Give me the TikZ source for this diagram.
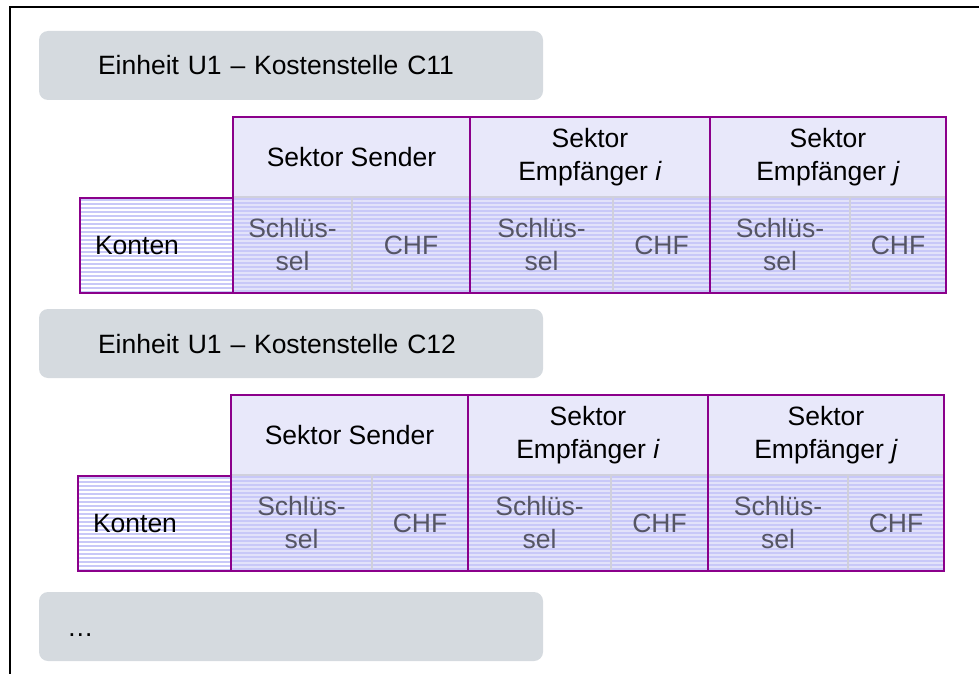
\documentclass[tikz,border=0pt]{standalone}
\usepackage{fontspec}
\setmainfont{Liberation Sans}
\usepackage{xcolor}

\definecolor{boxgray}{RGB}{213,218,223}
\definecolor{framepurple}{RGB}{139,0,139}
\definecolor{headfill}{RGB}{232,232,250}
\definecolor{subfill}{RGB}{226,226,250}
\definecolor{stripe}{RGB}{200,200,248}
\definecolor{subtext}{RGB}{85,85,100}
\definecolor{splitgray}{RGB}{208,208,220}

\begin{document}
\begin{tikzpicture}[x=1pt, y=-1pt,
    every node/.style={inner sep=0pt, outer sep=0pt, font=\fontsize{26.5}{33}\selectfont},
    unitbox/.style={anchor=north west, fill=boxgray, rounded corners=9pt,
      minimum width=504pt, minimum height=69pt, align=left, text height=19pt, text depth=0pt},
    stripes/.style={path picture={
        \foreach \s in {2,6,...,98}
          \draw[stripe, line width=2pt] ([yshift=-\s pt]path picture bounding box.north west)
            -- ([yshift=-\s pt]path picture bounding box.north east);}},
    konten/.style={anchor=north west, draw=framepurple, line width=2pt, fill=white, stripes,
      text width=123pt, inner xsep=15pt, align=left, minimum height=95pt},
    sektor/.style={anchor=north west, fill=headfill, align=center, minimum height=80pt},
    subcell/.style={anchor=north west, draw=splitgray, line width=1.5pt, fill=subfill, stripes,
      text=subtext, align=center, minimum height=96pt},
    colframe/.style={draw=framepurple, line width=2pt}]
    \useasboundingbox (0,0) rectangle (979,674);
    \draw[line width=2pt] (979,7) -| (10,674);

    % two cost centres
    \foreach \r/\dy/\dx/\ks/\cs in {1/0/0/119/C11, 2/278/-2/141/C12}{
      \node[unitbox, inner xsep=59pt, text width=386pt] (unit\r) at (39,31+\dy) {Einheit U1 – Kostenstelle \cs};
      \node[konten] (konten\r) at (80+\dx,198+\dy) {Konten};
      \foreach \c/\x/\w/\k/\t in {s/233/237/\ks/{Sektor Sender},
          i/470/240/143/{Sektor\\Empfänger \textit{i}},
          j/710/236/140/{Sektor\\Empfänger \textit{j}}}{
        \node[sektor, minimum width=\w pt] (head\c\r) at (\x+\dx,117+\dy) {\t};
        \node[subcell, minimum width=\k pt] (key\c\r) at (head\c\r.south west) {Schlüs-\\sel};
        \node[subcell, minimum width={(\w-\k)*1pt}] (chf\c\r) at (key\c\r.north east) {CHF};
        \draw[colframe] (head\c\r.north west) rectangle (chf\c\r.south east);
      }
    }
    \node[unitbox, inner xsep=28pt, text width=448pt] (unit3) at (39,592) {…};
  \end{tikzpicture}
\end{document}
